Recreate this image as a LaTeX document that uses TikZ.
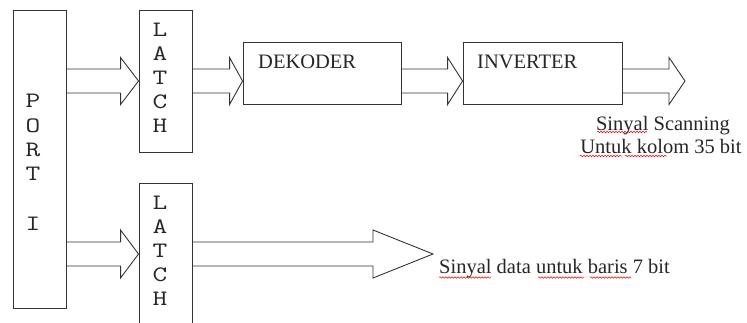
\documentclass[tikz,border=0pt]{standalone}
\usepackage{fontspec}
\usepackage{graphicx}
\setmainfont{Liberation Serif}
\usetikzlibrary{calc,decorations.pathmorphing}
\tikzset{
  box/.style={draw=black!80, line width=0.9pt, inner sep=0pt},
  fatline/.style={draw=black!80, line width=0.9pt, line join=miter},
  mono/.style={font=\ttfamily\fontsize{22}{24}\selectfont, inner sep=0pt, text=black!85},
  txt/.style={font=\fontsize{20.5}{23}\selectfont, inner sep=0pt, text=black!85},
  wavy/.style={draw=red, line width=0.5pt, decorate, decoration={snake, amplitude=0.8pt, segment length=3pt}}
}
\newcommand\widechar[1]{\scalebox{1.3}[1]{#1}}
\newcommand\fatarrow[4]{% start point, tip point, head length, head half height
  \draw[fatline] ($(#1)+(0,-12)$) -- ($(#2)+(-#3,-12)$) -- ($(#2)+(-#3,-#4)$) -- (#2)
    -- ($(#2)+(-#3,#4)$) -- ($(#2)+(-#3,12)$) -- ($(#1)+(0,12)$);}
\begin{document}
\begin{tikzpicture}[x=1pt,y=-1pt]
\useasboundingbox (0,0) rectangle (747,322);
\clip (0,0) rectangle (747,322);
% boxes
\node[box, minimum width=53pt, minimum height=298pt] (port) at (39.5,159) {};
\node[box, minimum width=53pt, minimum height=142pt] (latch1) at (165.5,81) {};
\node[box, minimum width=53pt, minimum height=147pt] (latch2) at (165.5,256.5) {};
\node[box, minimum width=158pt, minimum height=62pt] (dek) at (322,73) {};
\node[box, minimum width=159pt, minimum height=62pt] (inv) at (542.5,73) {};
% labels
\foreach \c/\yy [count=\i] in {P/107,O/132,R/156,T/180,I/230}
  \node[mono, anchor=base] (pl\i) at (33,\yy) {\widechar{\c}};
\foreach \c [count=\i] in {L,A,T,C,H}
  \node[mono, anchor=base] (la\i) at (160,12+24*\i) {\widechar{\c}};
\foreach \c [count=\i] in {L,A,T,C,H}
  \node[mono, anchor=base] (lb\i) at (160,185+24*\i) {\widechar{\c}};
\node[txt, anchor=base west] (dektxt) at (258,68) {DEKODER};
\node[txt, anchor=base west] (invtxt) at (477,68) {INVERTER};
% arrow levels and free ends
\coordinate (r1) at (0,81);
\coordinate (r2) at (0,254);
\coordinate (out1) at (685,81);
\coordinate (out2) at (433,254);
% fat arrows
\fatarrow{port.east|-r1}{latch1.west|-r1}{18}{23.5}
\fatarrow{latch1.east|-r1}{dek.west|-r1}{13}{23.5}
\fatarrow{dek.east|-r1}{inv.west|-r1}{15}{23.5}
\fatarrow{inv.east|-r1}{out1}{16}{23.5}
\fatarrow{port.east|-r2}{latch2.west|-r2}{18}{24}
\fatarrow{latch2.east|-r2}{out2}{60}{24}
% output texts
\node[txt, anchor=base] (s1) at (663,130) {Sinyal Scanning};
\node[txt, anchor=base] (s2) at (661,153) {Untuk kolom 35 bit};
\node[txt, anchor=base west] (s3) at (439,273) {Sinyal data untuk baris 7 bit};
% spell-check underlines
\draw[wavy] (439,277.5) -- (491,277.5);
\draw[wavy] (538,277.5) -- (584,277.5);
\draw[wavy] (590,277.5) -- (631,277.5);
\draw[wavy] (597,132) -- (647,132);
\draw[wavy] (580,156) -- (622,156);
\draw[wavy] (625,156) -- (667,156);
\end{tikzpicture}
\end{document}
